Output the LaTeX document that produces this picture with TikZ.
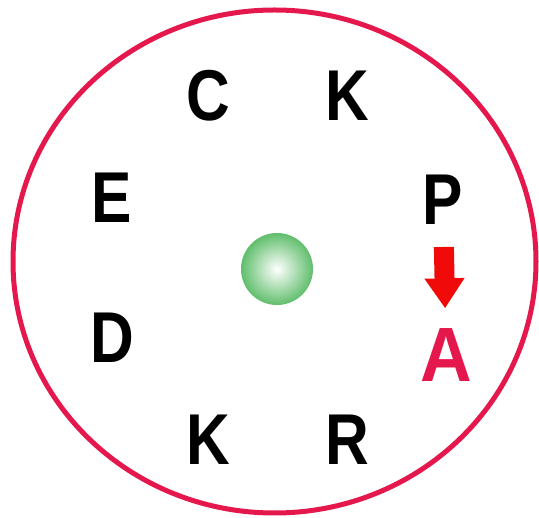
\documentclass[tikz,border=0pt]{standalone}
\usepackage{fontspec}
\setmainfont{Liberation Sans}
\usetikzlibrary{arrows.meta}
\definecolor{ringred}{RGB}{228,24,76}
\definecolor{ballgreen}{RGB}{96,190,108}
\definecolor{arrowred}{RGB}{240,10,10}
\newcommand{\narrow}[2][0.84]{\scalebox{#1}[1]{#2}}
\tikzset{letter/.style={inner sep=0pt, font=\fontsize{72}{72}\bfseries\selectfont}}

\begin{document}
\begin{tikzpicture}[x=1pt, y=-1pt]
\useasboundingbox (0,0) rectangle (539,518);
\draw[ringred, line width=5pt] (274.5,261.5) ellipse (261.5 and 251.5);
\shade[inner color=white, outer color=ballgreen] (277,269) circle(36);
\node[letter] (c) at (208,96) {\narrow{C}};
\node[letter] (k1) at (347,96) {\narrow{K}};
\node[letter] (e) at (112,198) {\narrow{E}};
\node[letter] (p) at (443,200) {\narrow{P}};
\node[letter] (d) at (112,338) {\narrow{D}};
\node[letter, ringred, font=\fontsize{77}{77}\bfseries\selectfont] (a) at (446,355) {\narrow[0.93]{A}};
\node[letter] (k2) at (208,440) {\narrow{K}};
\node[letter] (r) at (347,440) {\narrow{R}};
\draw[arrowred, line width=20pt, -{Triangle[width=38pt, length=30pt]}, shorten <=22pt, shorten >=20pt] (p) -- (a); % P becomes A
\end{tikzpicture}
\end{document}
